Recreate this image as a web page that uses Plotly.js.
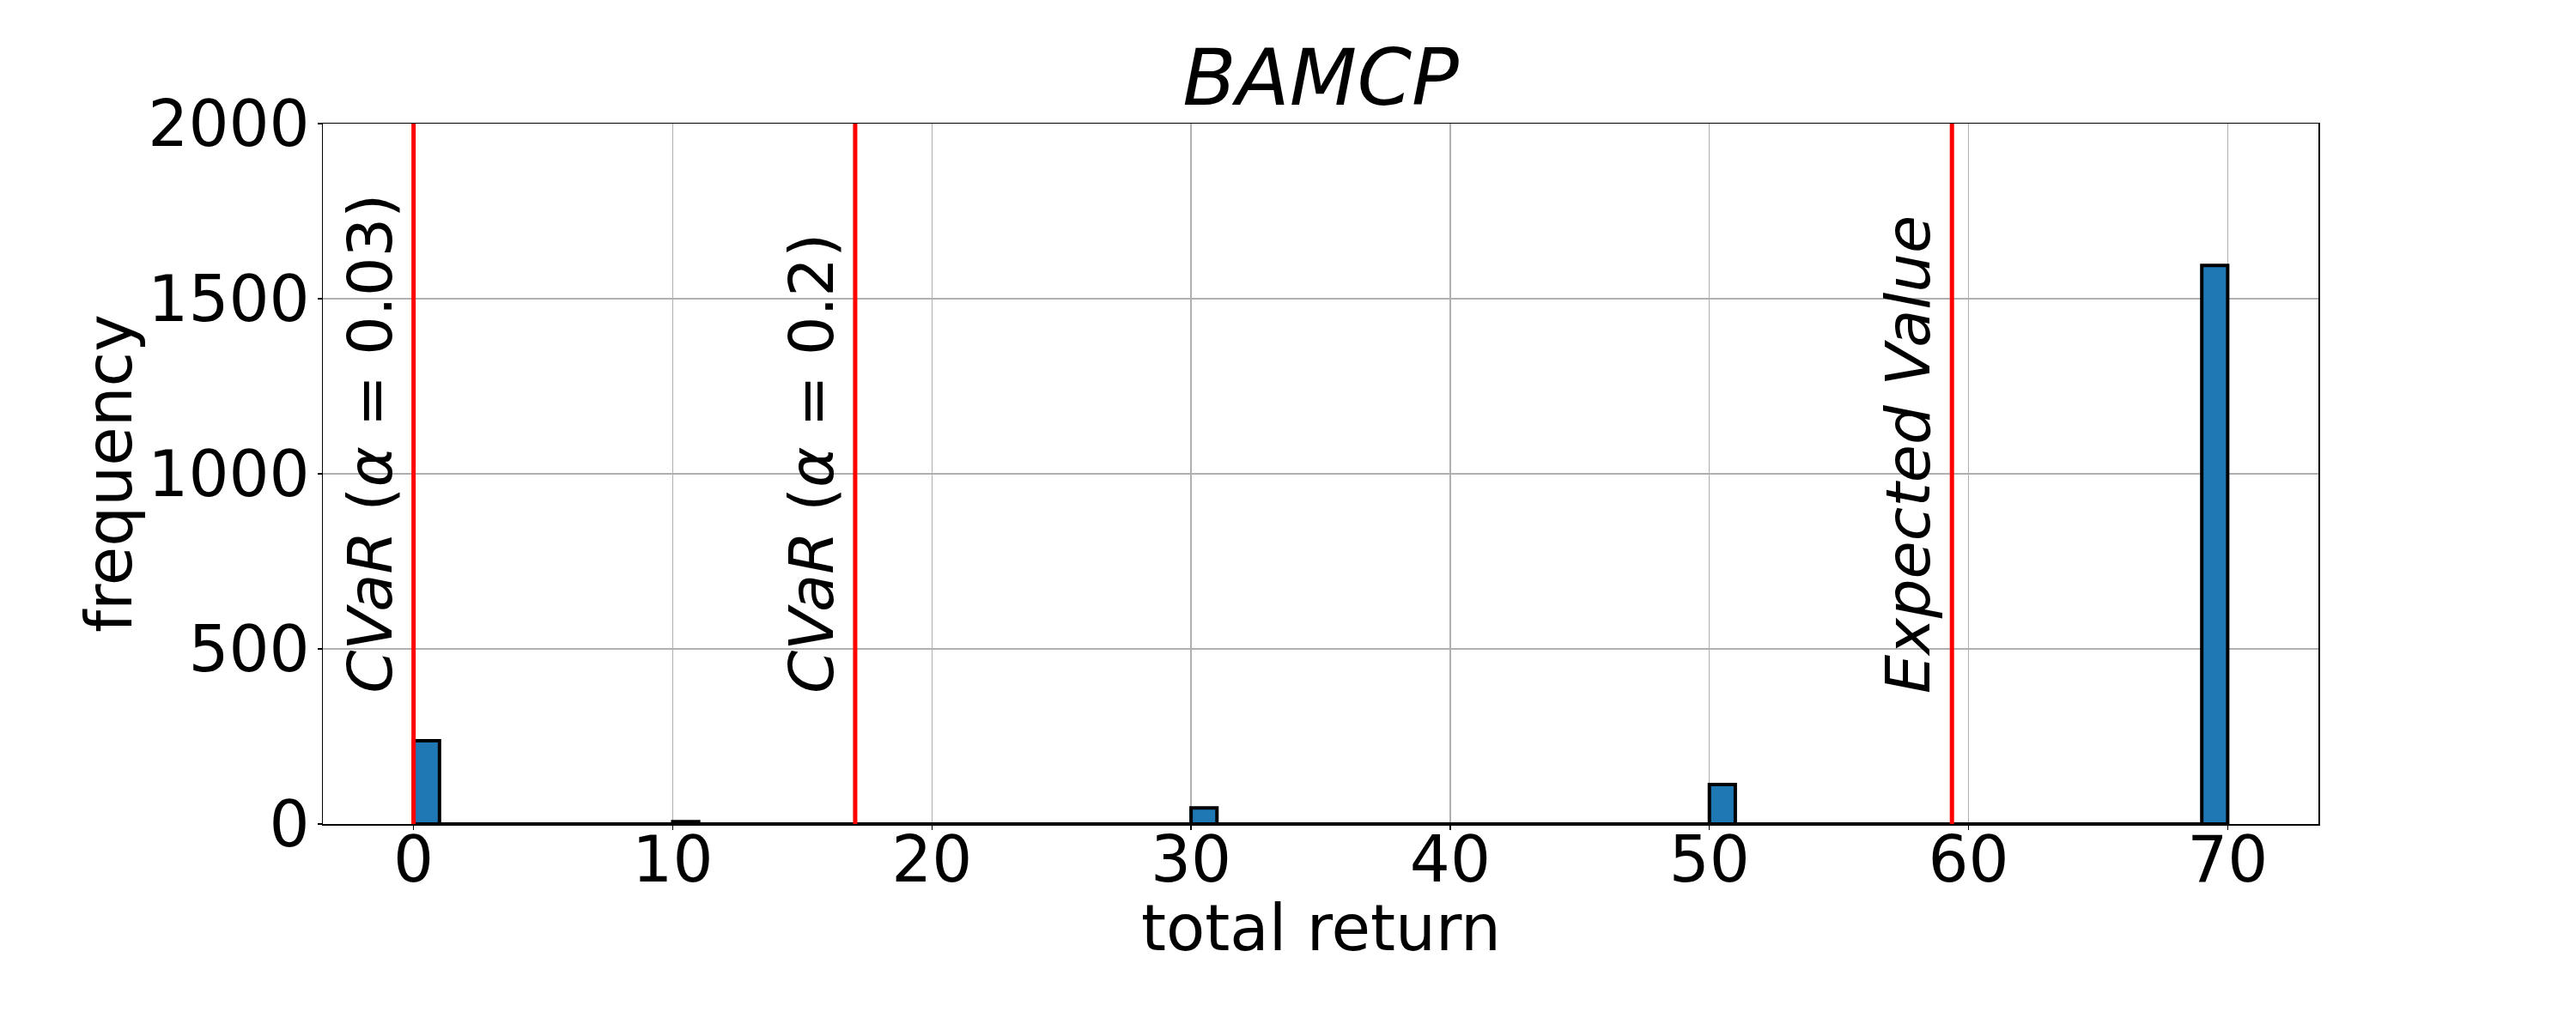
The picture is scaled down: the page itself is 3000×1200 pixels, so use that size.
<!DOCTYPE html>
<html>
<head>
<meta charset="utf-8">
<script src="https://cdn.plot.ly/plotly-3.0.1.min.js"></script>
<style>
html, body { margin: 0; padding: 0; background: #ffffff; }
#chart { width: 3000px; height: 1200px; }
</style>
</head>
<body>
<div id="chart"></div>
<script>
// ---- data ----
const binLeft = [0, 10, 30, 50, 69];          // left edge of each non-empty bin (total return)
const binCounts = [238, 7, 46, 113, 1595];    // frequency in each bin
const binWidth = 1;                            // histogram bin width
const histStart = 0;                           // first bin edge
const histEnd = 70;                            // last bin edge

const lineLabels = ['<i>CVaR</i> (<i>α</i> = 0.03)', '<i>CVaR</i> (<i>α</i> = 0.2)', '<i>Expected Value</i>'];
const lineValues = [0, 17.04, 59.36];
const labelY = 370;

const xTicks = [0, 10, 20, 30, 40, 50, 60, 70];
const yTicks = [0, 500, 1000, 1500, 2000];

const chartTitle = 'BAMCP';
const xTitle = 'total return';
const yTitle = 'frequency';

// ---- traces ----
const bars = {
  type: 'bar',
  x: binLeft,
  y: binCounts,
  width: binWidth,
  offset: 0,
  marker: { color: '#1f77b4', line: { color: '#000000', width: 4 } },
  hoverinfo: 'skip',
  showlegend: false
};

// zero-height bins render as a thick edge along the baseline
const baseline = {
  type: 'scatter',
  mode: 'lines',
  x: [histStart, histEnd],
  y: [0, 0],
  line: { color: '#000000', width: 4 },
  hoverinfo: 'skip',
  showlegend: false,
  cliponaxis: false
};

const FONT = 'DejaVu Sans, sans-serif';
const AXFONT = 74;

const shapes = lineValues.map(v => ({
  type: 'line', xref: 'x', yref: 'paper',
  x0: v, x1: v, y0: 0, y1: 1,
  line: { color: '#ff0000', width: 5 },
  layer: 'above'
}));

const annotations = lineValues.map((v, i) => ({
  x: v, xref: 'x', y: labelY, yref: 'y',
  text: lineLabels[i],
  textangle: -90,
  showarrow: false,
  xanchor: 'right', yanchor: 'bottom',
  xshift: -8,
  borderpad: 0,
  font: { family: FONT, size: 72, color: '#000000' }
}));

// axis titles as annotations for precise placement
annotations.push({
  x: 0.5, xref: 'paper', y: -0.148, yref: 'paper',
  text: xTitle, showarrow: false,
  xanchor: 'center', yanchor: 'middle', borderpad: 0,
  font: { family: FONT, size: AXFONT, color: '#000000' }
});
annotations.push({
  x: -0.1071, xref: 'paper', y: 0.5, yref: 'paper',
  text: yTitle, showarrow: false, textangle: -90,
  xanchor: 'center', yanchor: 'middle', borderpad: 0,
  font: { family: FONT, size: AXFONT, color: '#000000' }
});

const layout = {
  width: 3000, height: 1200,
  paper_bgcolor: '#ffffff', plot_bgcolor: '#ffffff',
  margin: { l: 376, r: 300, t: 144, b: 240, pad: 0 },
  font: { family: FONT, size: AXFONT, color: '#000000' },
  title: {
    text: '<i>' + chartTitle + '</i>',
    font: { family: FONT, size: 91, color: '#000000' },
    x: 0.5, xanchor: 'center', xref: 'paper',
    y: 1, yref: 'paper', yanchor: 'bottom',
    pad: { b: 22 }
  },
  xaxis: {
    range: [-3.5, 73.5],
    tickvals: xTicks,
    ticktext: xTicks.map(String),
    ticks: 'outside', ticklen: 5, tickwidth: 1.2, tickcolor: '#000000',
    ticklabelstandoff: -28,
    showgrid: true, gridcolor: '#b0b0b0', gridwidth: 1.5,
    zeroline: false,
    showline: true, linecolor: '#000000', linewidth: 1.5, mirror: true,
    tickfont: { family: FONT, size: AXFONT, color: '#000000' },
    automargin: false
  },
  yaxis: {
    range: [0, 2000],
    tickvals: yTicks,
    ticktext: yTicks.map(String),
    ticks: 'outside', ticklen: 5, tickwidth: 1.2, tickcolor: '#000000',
    ticklabelstandoff: -6,
    showgrid: true, gridcolor: '#b0b0b0', gridwidth: 1.5,
    zeroline: false,
    showline: true, linecolor: '#000000', linewidth: 1.5, mirror: true,
    tickfont: { family: FONT, size: AXFONT, color: '#000000' },
    automargin: false
  },
  bargap: 0,
  shapes: shapes,
  annotations: annotations,
  showlegend: false
};

Plotly.newPlot('chart', [bars, baseline], layout, { displayModeBar: false, staticPlot: true });
</script>
</body>
</html>
